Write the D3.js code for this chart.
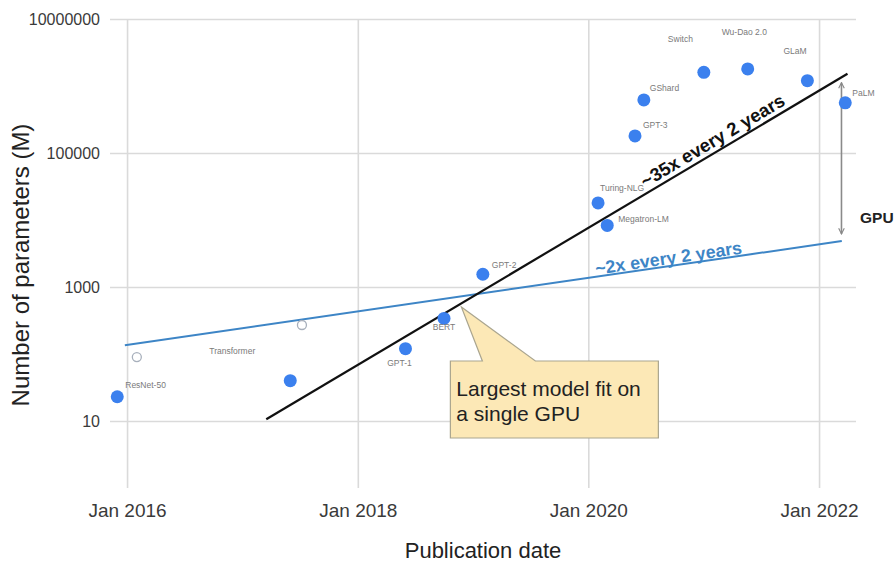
<!DOCTYPE html>
<html>
<head>
<meta charset="utf-8">
<script src="https://cdn.jsdelivr.net/npm/d3@7"></script>
<style>
  html, body { margin: 0; padding: 0; background: #ffffff; }
  svg { display: block; font-family: "Liberation Sans", Arial, Helvetica, sans-serif; }
</style>
</head>
<body>
<svg id="chart" width="894" height="562"></svg>
<script>
// ---------------- data ----------------
const models = ["ResNet-50", "Transformer", "GPT-1", "BERT", "GPT-2", "Turing-NLG", "Megatron-LM",
                "GPT-3", "GShard", "Switch", "Wu-Dao 2.0", "GLaM", "PaLM"];
const modelDates = ["2015-12-01", "2017-06-01", "2018-06-01", "2018-10-01", "2019-02-01", "2020-02-01",
                    "2020-03-01", "2020-05-28", "2020-06-25", "2021-01-01", "2021-05-20", "2021-11-25", "2022-03-25"];
const modelParams = [23, 40, 120, 340, 1550, 18000, 8300, 180000, 620000, 1600000, 1800000, 1200000, 560000];

// hollow markers (GPU memory points)
const gpuDates = ["2016-02-01", "2017-07-08"];
const gpuParams = [90, 271];

// trend lines: [start, end]
const modelTrendDates = ["2017-03-17", "2022-04-01"];
const modelTrendParams = [10.6, 1520000];
const gpuTrendDates = ["2015-12-25", "2022-03-14"];
const gpuTrendParams = [135, 4850];

// gap arrow
const gapDate = "2022-03-13";
const gapParams = [6200, 1120000];

// callout tip
const calloutDate = "2018-11-25";
const calloutParam = 503;

const xTickDates = ["2016-01-01", "2018-01-01", "2020-01-01", "2022-01-01"];
const yTickValues = [10, 1000, 100000, 10000000];

// ---------------- layout (not data) ----------------
const labelPlacement = {
  "ResNet-50":   { dx: 8,   dy: -9,  anchor: "start" },
  "Transformer": { dx: -35, dy: -27, anchor: "end" },
  "GPT-1":       { dx: -6,  dy: 17,  anchor: "middle" },
  "BERT":        { dx: 0,   dy: 12,  anchor: "middle" },
  "GPT-2":       { dx: 9,   dy: -6,  anchor: "start" },
  "Turing-NLG":  { dx: 2,   dy: -12, anchor: "start" },
  "Megatron-LM": { dx: 11,  dy: -3,  anchor: "start" },
  "GPT-3":       { dx: 8,   dy: -8,  anchor: "start" },
  "GShard":      { dx: 6,   dy: -9,  anchor: "start" },
  "Switch":      { dx: -36, dy: -30, anchor: "start" },
  "Wu-Dao 2.0":  { dx: -26, dy: -34, anchor: "start" },
  "GLaM":        { dx: -24, dy: -27, anchor: "start" },
  "PaLM":        { dx: 7,   dy: -7,  anchor: "start" }
};

const parse = d3.timeParse("%Y-%m-%d");
const svg = d3.select("#chart");

const plot = { left: 110, right: 856, top: 19, bottom: 488 };

const x = d3.scaleTime()
  .domain([parse("2015-11-08"), parse("2022-04-28")])
  .range([plot.left, plot.right]);
const y = d3.scaleLog()
  .domain([1, 10000000])
  .range([plot.bottom, plot.top]);

const gridColor = "#dadada";

// ---------------- axes / grid ----------------
const yAxis = d3.axisLeft(y)
  .tickValues(yTickValues)
  .tickFormat(d3.format("d"))
  .tickSize(-(plot.right - plot.left))
  .tickPadding(10);
const gy = svg.append("g").attr("transform", `translate(${plot.left},0)`).call(yAxis);
gy.select(".domain").remove();
gy.selectAll(".tick line").attr("stroke", gridColor).attr("stroke-width", 1.6);
gy.selectAll(".tick text").attr("font-size", 16).attr("fill", "#3a3a3a")
  .attr("font-family", "'Liberation Sans', Arial, sans-serif");

const xAxis = d3.axisBottom(x)
  .tickValues(xTickDates.map(parse))
  .tickFormat(d3.timeFormat("%b %Y"))
  .tickSize(-(plot.bottom - plot.top))
  .tickPadding(16);
const gx = svg.append("g").attr("transform", `translate(0,${plot.bottom})`).call(xAxis);
gx.select(".domain").remove();
gx.selectAll(".tick line").attr("stroke", gridColor).attr("stroke-width", 1.6);
gx.selectAll(".tick text").attr("font-size", 19).attr("fill", "#3a3a3a")
  .attr("font-family", "'Liberation Sans', Arial, sans-serif");

// axis titles
svg.append("text")
  .attr("x", 483).attr("y", 558)
  .attr("text-anchor", "middle")
  .attr("font-size", 22).attr("fill", "#222")
  .text("Publication date");

svg.append("text")
  .attr("transform", "translate(29,265) rotate(-90)")
  .attr("text-anchor", "middle")
  .attr("font-size", 24).attr("fill", "#222")
  .text("Number of parameters (M)");

// ---------------- trend lines ----------------
const blue = "#3d85c6";
function trend(dates, vals) {
  return dates.map((d, i) => [x(parse(d)), y(vals[i])]);
}
const blk = trend(modelTrendDates, modelTrendParams);
const gpu = trend(gpuTrendDates, gpuTrendParams);
const lineGen = d3.line();

svg.append("path").attr("d", lineGen(gpu))
  .attr("stroke", blue).attr("stroke-width", 2).attr("fill", "none");
svg.append("path").attr("d", lineGen(blk))
  .attr("stroke", "#111").attr("stroke-width", 2.2).attr("fill", "none");

function trendLabel(pts, t, dy, text, color, size) {
  const [p0, p1] = pts;
  const px = p0[0] + (p1[0] - p0[0]) * t;
  const py = p0[1] + (p1[1] - p0[1]) * t;
  const ang = Math.atan2(p1[1] - p0[1], p1[0] - p0[0]) * 180 / Math.PI;
  svg.append("text")
    .attr("transform", `translate(${px},${py}) rotate(${ang})`)
    .attr("dy", dy)
    .attr("text-anchor", "middle")
    .attr("font-weight", "bold")
    .attr("font-size", size)
    .attr("fill", color)
    .text(text);
}
trendLabel(blk, 0.778, -5, "~35x every 2 years", "#111", 18.5);
trendLabel(gpu, 0.76, -2, "~2x every 2 years", blue, 17.8);

// ---------------- gap arrow ----------------
const defs = svg.append("defs");
defs.append("marker")
  .attr("id", "arrow")
  .attr("viewBox", "0 0 10 10")
  .attr("refX", 9).attr("refY", 5)
  .attr("markerWidth", 7).attr("markerHeight", 7)
  .attr("markerUnits", "userSpaceOnUse")
  .attr("orient", "auto-start-reverse")
  .append("path")
  .attr("d", "M1,1 L9,5 L1,9")
  .attr("fill", "none").attr("stroke", "#888").attr("stroke-width", 1.6);

svg.append("line")
  .attr("x1", x(parse(gapDate))).attr("x2", x(parse(gapDate)))
  .attr("y1", y(gapParams[0])).attr("y2", y(gapParams[1]))
  .attr("stroke", "#8a8a8a").attr("stroke-width", 1.6)
  .attr("marker-start", "url(#arrow)")
  .attr("marker-end", "url(#arrow)");

svg.append("text")
  .attr("x", 860).attr("y", 223)
  .attr("font-size", 15.5).attr("font-weight", "bold").attr("fill", "#222")
  .text("GPU");

// ---------------- points ----------------
const pts = models.map((m, i) => ({ name: m, date: parse(modelDates[i]), v: modelParams[i] }));

svg.append("g").selectAll("circle.gpu")
  .data(gpuDates.map((d, i) => ({ date: parse(d), v: gpuParams[i] })))
  .join("circle")
  .attr("cx", d => x(d.date)).attr("cy", d => y(d.v))
  .attr("r", 4.5)
  .attr("fill", "#fff").attr("stroke", "#a8b0bc").attr("stroke-width", 1.3);

svg.append("g").selectAll("circle.model")
  .data(pts)
  .join("circle")
  .attr("cx", d => x(d.date)).attr("cy", d => y(d.v))
  .attr("r", 6.5)
  .attr("fill", "#3b80ee");

svg.append("g").selectAll("text")
  .data(pts)
  .join("text")
  .attr("x", d => x(d.date) + labelPlacement[d.name].dx)
  .attr("y", d => y(d.v) + labelPlacement[d.name].dy)
  .attr("text-anchor", d => labelPlacement[d.name].anchor)
  .attr("font-size", 8.5)
  .attr("fill", "#7a7a7a")
  .text(d => d.name);

// ---------------- callout ----------------
const tx = x(parse(calloutDate)), ty = y(calloutParam);
const bx0 = tx - 11, by0 = ty + 54, bx1 = tx + 197, by1 = ty + 131;
const callout = d3.path();
callout.moveTo(bx0, by0);
callout.lineTo(tx + 21, by0);
callout.lineTo(tx, ty);
callout.lineTo(tx + 74, by0);
callout.lineTo(bx1, by0);
callout.lineTo(bx1, by1);
callout.lineTo(bx0, by1);
callout.closePath();
svg.append("path").attr("d", callout.toString())
  .attr("fill", "#fce8b6").attr("stroke", "#aaa58f").attr("stroke-width", 1.2);

const ct = svg.append("text").attr("font-size", 21).attr("fill", "#222");
ct.append("tspan").attr("x", tx - 5).attr("y", ty + 89).text("Largest model fit on");
ct.append("tspan").attr("x", tx - 5).attr("y", ty + 114).text("a single GPU");
</script>
</body>
</html>
